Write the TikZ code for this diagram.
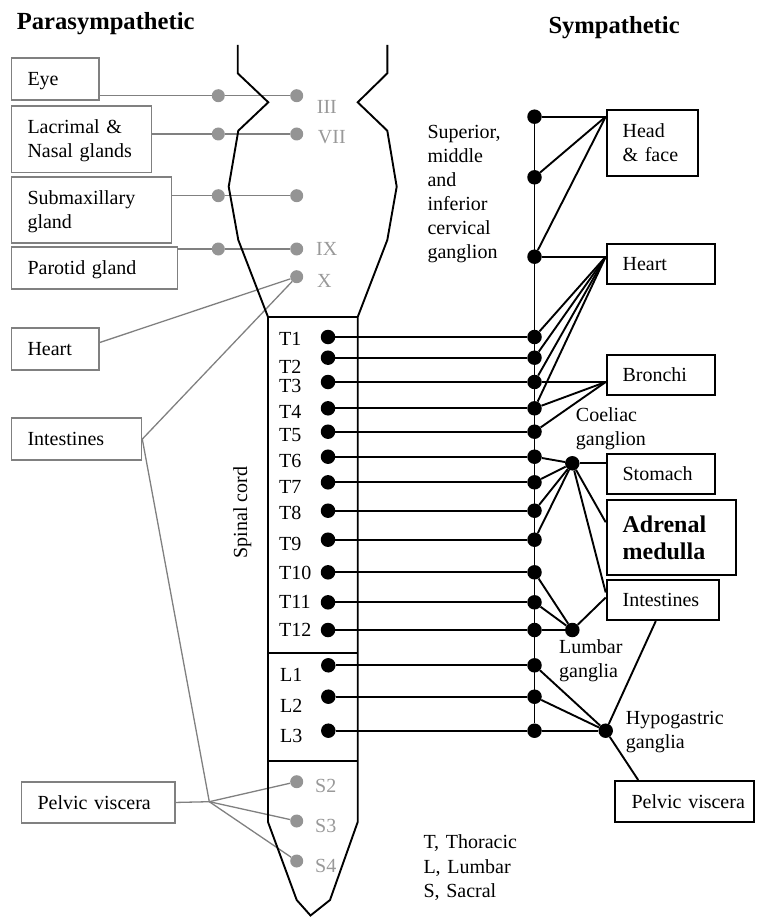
\documentclass[tikz,border=0pt]{standalone}
\usepackage{fontspec}
\setmainfont{Liberation Serif}
\usetikzlibrary{calc}
\pgfdeclarelayer{bg}
\pgfsetlayers{bg,main}
\definecolor{pline}{gray}{0.5}
\definecolor{pdot}{gray}{0.58}
\definecolor{plab}{gray}{0.6}
\begin{document}
\begin{tikzpicture}[x=1pt,y=-1pt,
  every node/.style={font=\fontsize{20}{24}\selectfont},
  gbox/.style={draw=pline, line width=1.6pt, anchor=north west, inner xsep=16pt, inner ysep=1pt, align=left},
  bbox/.style={draw=black, line width=1.8pt, anchor=north west, inner xsep=16pt, inner ysep=1pt, align=left},
  oneline/.style={text height=13.5pt, text depth=0pt},
  twoline/.style={text height=13.5pt, text depth=24pt},
  gdot/.style={circle, fill=pdot, minimum size=13pt, inner sep=0pt},
  bdot/.style={circle, fill=black, minimum size=14.5pt, inner sep=0pt},
  gline/.style={draw=pline, line width=1.3pt},
  bline/.style={draw=black, line width=1.9pt},
  lab/.style={inner sep=0pt, anchor=west},
  glab/.style={inner sep=0pt, anchor=west, text=plab},
  txt/.style={inner sep=0pt, anchor=base west, align=left, text width=150pt},
  ttl/.style={inner sep=0pt, anchor=base west, font=\fontsize{24.6}{28}\selectfont\bfseries},
]
\useasboundingbox (0,0) rectangle (756,917);

% titles
\node[ttl] (tpara) at (16.7,29.3) {Parasympathetic};
\node[ttl] (tsym) at (548.3,33.3) {Sympathetic};

% brain stem and spinal cord outline
\draw[bline, line join=miter] (237.7,45) -- (237.7,73.3) -- (268.3,102.3) -- (238.3,130.7)
  -- (228.7,186.7) -- (238.3,240) -- (268,317) -- (268,822) -- (296.7,900) -- (310.5,915.5)
  -- (330,900) -- (357.7,822) -- (357.7,317) -- (387.3,240) -- (396.7,186.7)
  -- (387.3,130.7) -- (357.7,102.3) -- (387.3,73.3) -- (387.3,45);
\draw[bline] (268,317) -- (357.7,317);
\draw[bline] (268,653.3) -- (357.7,653.3);
\draw[bline] (268,761) -- (357.7,761);
\node[rotate=90, inner sep=0pt] (sc) at (242.3,512.5) {Spinal cord};

% parasympathetic boxes
\node[gbox, oneline, text width=55.6pt, minimum height=42pt] (eye) at (10.7,57.3) {Eye};
\node[gbox, twoline, text width=108pt, minimum height=66.7pt] (lac) at (10.7,105) {Lacrimal \&\\Nasal glands};
\node[gbox, twoline, text width=128pt, minimum height=66.3pt] (smx) at (10.7,176) {Submaxillary\\gland};
\node[gbox, oneline, text width=134pt, minimum height=42.3pt] (par) at (10.7,246) {Parotid gland};
\node[gbox, oneline, text width=55.6pt, minimum height=41.7pt] (heartL) at (10.7,327.3) {Heart};
\node[gbox, oneline, text width=98pt, minimum height=42pt] (intL) at (10.7,417.3) {Intestines};
\node[gbox, oneline, text width=121.3pt, minimum height=41.3pt] (pelL) at (20.7,781) {Pelvic viscera};

% parasympathetic dots
\node[gdot] (pIIIl) at (218.3,95.7) {};
\node[gdot] (pIIIr) at (296.7,95.7) {};
\node[gdot] (pVIIl) at (218.3,134) {};
\node[gdot] (pVIIr) at (296.7,134) {};
\node[gdot] (pSMl) at (218.3,195.7) {};
\node[gdot] (pSMr) at (296.7,195.7) {};
\node[gdot] (pIXl) at (218.3,249) {};
\node[gdot] (pIXr) at (296.7,249) {};
\node[gdot] (pX) at (296.7,276.7) {};
\node[gdot] (pS2) at (296.7,781.7) {};
\node[gdot] (pS3) at (296.7,821) {};
\node[gdot] (pS4) at (296.7,861) {};
\coordinate (pj) at (209.3,801.7);

\node[glab] (lIII) at (316.7,106.7) {III};
\node[glab] (lVII) at (317.7,137.5) {VII};
\node[glab] (lIX) at (316,249) {IX};
\node[glab] (lX) at (317,281) {X};
\node[glab] (lS2) at (315,785.5) {S2};
\node[glab] (lS3) at (315,825.5) {S3};
\node[glab] (lS4) at (315,866) {S4};

% cord and chain dots
\foreach \n/\y/\ly in {1/337/339, 2/357.7/366.7, 3/382/386, 4/408.3/411.7, 5/431.7/435,
  6/456.7/460.7, 7/482.3/487.3, 8/510.7/513.3, 9/539.7/544, 10/572.3/572.7, 11/602.3/601.7, 12/630/630}{
  \node[bdot] (t\n) at (328,\y) {};
  \node[bdot] (s\n) at (534.5,\y) {};
  \node[lab] (lT\n) at (279,\ly) {T\n};
}
\foreach \n/\y/\ly in {1/665.3/675, 2/696.7/706, 3/730.7/735.7}{
  \node[bdot] (tl\n) at (328.3,\y) {};
  \node[bdot] (sL\n) at (534.5,\y) {};
  \node[lab] (lL\n) at (280,\ly) {L\n};
}
\node[bdot] (c1) at (534.5,116.7) {};
\node[bdot] (c2) at (534.5,177.3) {};
\node[bdot] (c3) at (534.5,256.7) {};
\node[bdot] (cg) at (572.3,463.3) {};
\node[bdot] (lg) at (572.3,630) {};
\node[bdot] (hg) at (605.7,730.7) {};

% sympathetic boxes
\node[bbox, twoline, text width=59.6pt, minimum height=66pt] (head) at (605.7,109) {Head\\\& face};
\node[bbox, oneline, text width=76.3pt, minimum height=40.6pt] (heartR) at (605.7,242.7) {Heart};
\node[bbox, oneline, text width=76.3pt, minimum height=40pt] (bronchi) at (605.7,354) {Bronchi};
\node[bbox, oneline, text width=76.3pt, minimum height=40.6pt] (stomach) at (605.7,452.7) {Stomach};
\node[bbox, text width=97.3pt, minimum height=74.7pt, font=\fontsize{24}{27.6}\selectfont\bfseries,
  text height=16.5pt, text depth=27.6pt] (adrenal) at (605.7,499.3) {Adrenal\\medulla};
\node[bbox, oneline, text width=80pt, minimum height=40.3pt] (intR) at (605.7,579) {Intestines};
\node[bbox, oneline, text width=122.7pt, inner xsep=8pt, minimum height=41pt] (pelR) at (614.3,780) {\hspace*{8.4pt}Pelvic viscera};

% labels
\node[txt] (cerv) at (427.3,138.3) {Superior,\\middle\\and\\inferior\\cervical\\ganglion};
\node[txt] (coel) at (575.7,421.7) {Coeliac\\ganglion};
\node[txt] (lumb) at (559,653.3) {Lumbar\\ganglia};
\node[txt] (hypo) at (625.7,724) {Hypogastric\\ganglia};
\node[txt, font=\fontsize{20}{24.5}\selectfont] (legend) at (423.3,848.7) {T, Thoracic\\L, Lumbar\\S, Sacral};

\begin{pgfonlayer}{bg}
  % parasympathetic connectors
  \draw[gline] (pIIIl -| eye.east) -- (pIIIl) -- (pIIIr);
  \draw[gline] (pVIIl -| lac.east) -- (pVIIl) -- (pVIIr);
  \draw[gline] (pSMl -| smx.east) -- (pSMl) -- (pSMr);
  \draw[gline] (pIXl -| par.east) -- (pIXl) -- (pIXr);
  \draw[gline] ($(heartL.north east)!0.35!(heartL.south east)$) -- (pX);
  \draw[gline] (intL.east) -- (pX);
  \draw[gline] (intL.east) -- (pj);
  \draw[gline] (pelL.east) -- (pj);
  \draw[gline] (pj) -- (pS2);
  \draw[gline] (pj) -- (pS3);
  \draw[gline] (pj) -- (pS4);

  % sympathetic chain
  \draw[bline] (c1) -- (sL3);
  \foreach \n in {1,...,12}{\draw[bline] (t\n) -- (s\n);}
  \foreach \n in {1,2,3}{\draw[bline] (tl\n) -- (sL\n);}

  \coordinate (hfp) at (c1 -| head.west);
  \draw[bline] (c1) -- (hfp);
  \draw[bline] (c2) -- (hfp);
  \draw[bline] (c3) -- (hfp);

  \coordinate (hrp) at (c3 -| heartR.west);
  \draw[bline] (c3) -- (hrp);
  \foreach \n in {1,2,3,4}{\draw[bline] (s\n) -- (hrp);}

  \coordinate (brp) at (s3 -| bronchi.west);
  \draw[bline] (s3) -- (brp);
  \draw[bline] (s4) -- (brp);
  \draw[bline] (s5) -- (brp);

  \foreach \n in {6,7,8,9}{\draw[bline] (s\n) -- (cg);}
  \draw[bline] (cg) -- (cg -| stomach.west);
  \draw[bline] (cg) -- ($(adrenal.north west)!0.3!(adrenal.south west)$);
  \draw[bline] (cg) -- ($(intR.north west)!0.32!(intR.south west)$);

  \foreach \n in {10,11,12}{\draw[bline] (s\n) -- (lg);}
  \draw[bline] (lg) -- ($(intR.north west)!0.44!(intR.south west)$);

  \foreach \n in {1,2,3}{\draw[bline] (sL\n) -- (hg);}
  \draw[bline] (hg) -- ($(intR.south west)!0.44!(intR.south east)$);
  \draw[bline] (hg) -- ($(pelR.north west)!0.17!(pelR.north east)$);
\end{pgfonlayer}
\end{tikzpicture}
\end{document}
